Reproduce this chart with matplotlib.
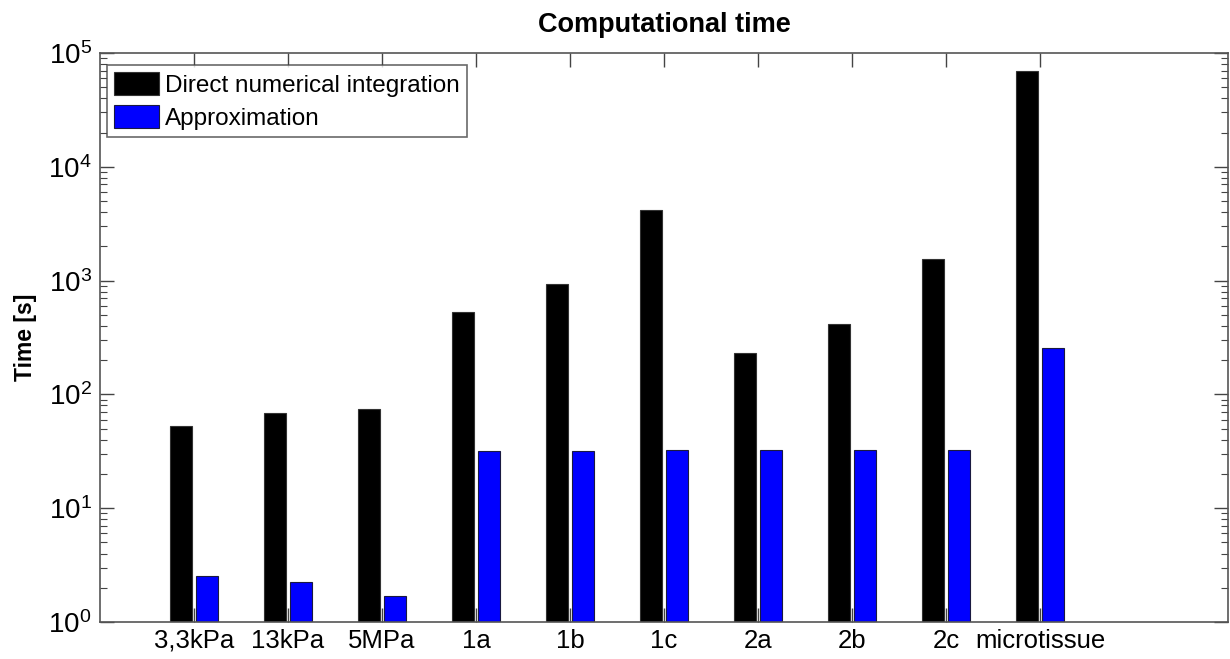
import numpy as np
import matplotlib
matplotlib.use('Agg')
import matplotlib.pyplot as plt
from matplotlib.ticker import LogLocator, NullFormatter

plt.rcParams['font.family'] = ['Liberation Sans', 'DejaVu Sans']
plt.rcParams['mathtext.fontset'] = 'custom'
plt.rcParams['mathtext.rm'] = 'Liberation Sans'
plt.rcParams['mathtext.it'] = 'Liberation Sans:italic'
plt.rcParams['mathtext.bf'] = 'Liberation Sans:bold'

# timing results per test case (seconds)
cases = ['3,3kPa', '13kPa', '5MPa', '1a', '1b', '1c', '2a', '2b', '2c', 'microtissue']
direct_time = [53, 68, 74, 530, 940, 4150, 232, 412, 1550, 69000]
approx_time = [2.55, 2.25, 1.70, 31.8, 31.8, 32.7, 32.7, 32.7, 32.7, 258]

x = np.arange(1, len(cases) + 1)
w = 0.23
off = 0.14

fig = plt.figure(figsize=(12.3, 6.59), dpi=100)
ax = fig.add_axes([0.0813, 0.0561, 0.9172, 0.8635])

ax.bar(x - off, direct_time, w, color='black', edgecolor='#333333', linewidth=0.8,
       label='Direct numerical integration', zorder=2)
ax.bar(x + off, approx_time, w, color='#0000ff', edgecolor='#1a1a40', linewidth=0.8,
       label='Approximation', zorder=2)

ax.set_yscale('log')
ax.set_ylim(1, 1e5)
ax.set_xlim(0, 12)
ax.set_xticks(x)
ax.set_xticklabels(cases, fontsize=18.5)
ax.yaxis.set_major_locator(LogLocator(base=10, numticks=10))
ax.yaxis.set_minor_locator(LogLocator(base=10, subs=np.arange(2, 10), numticks=10))
ax.yaxis.set_minor_formatter(NullFormatter())

ax.tick_params(axis='both', which='both', direction='in', top=True, right=True,
               color='#444444')
ax.tick_params(axis='y', which='major', length=10, width=1.0, labelsize=20, pad=6)
ax.tick_params(axis='y', which='minor', length=5, width=0.8)
ax.tick_params(axis='x', which='major', length=10, width=1.0, pad=5)

for s in ax.spines.values():
    s.set_color('#555555')
    s.set_linewidth(1.2)

ax.set_title('Computational time', fontsize=19.5, fontweight='bold', pad=15)
ax.set_ylabel('Time [s]', fontsize=16.5, fontweight='bold', labelpad=8)

leg = ax.legend(loc='upper left', bbox_to_anchor=(7 / 1129, 1 - 12 / 569),
                borderaxespad=0, fontsize=17.5, frameon=True, fancybox=False,
                handlelength=1.85, handleheight=1.07, handletextpad=0.25,
                borderpad=0.3, labelspacing=0.35)
leg.get_frame().set_edgecolor('#444444')
leg.get_frame().set_linewidth(1.2)

fig.savefig('out.png', dpi=100)
